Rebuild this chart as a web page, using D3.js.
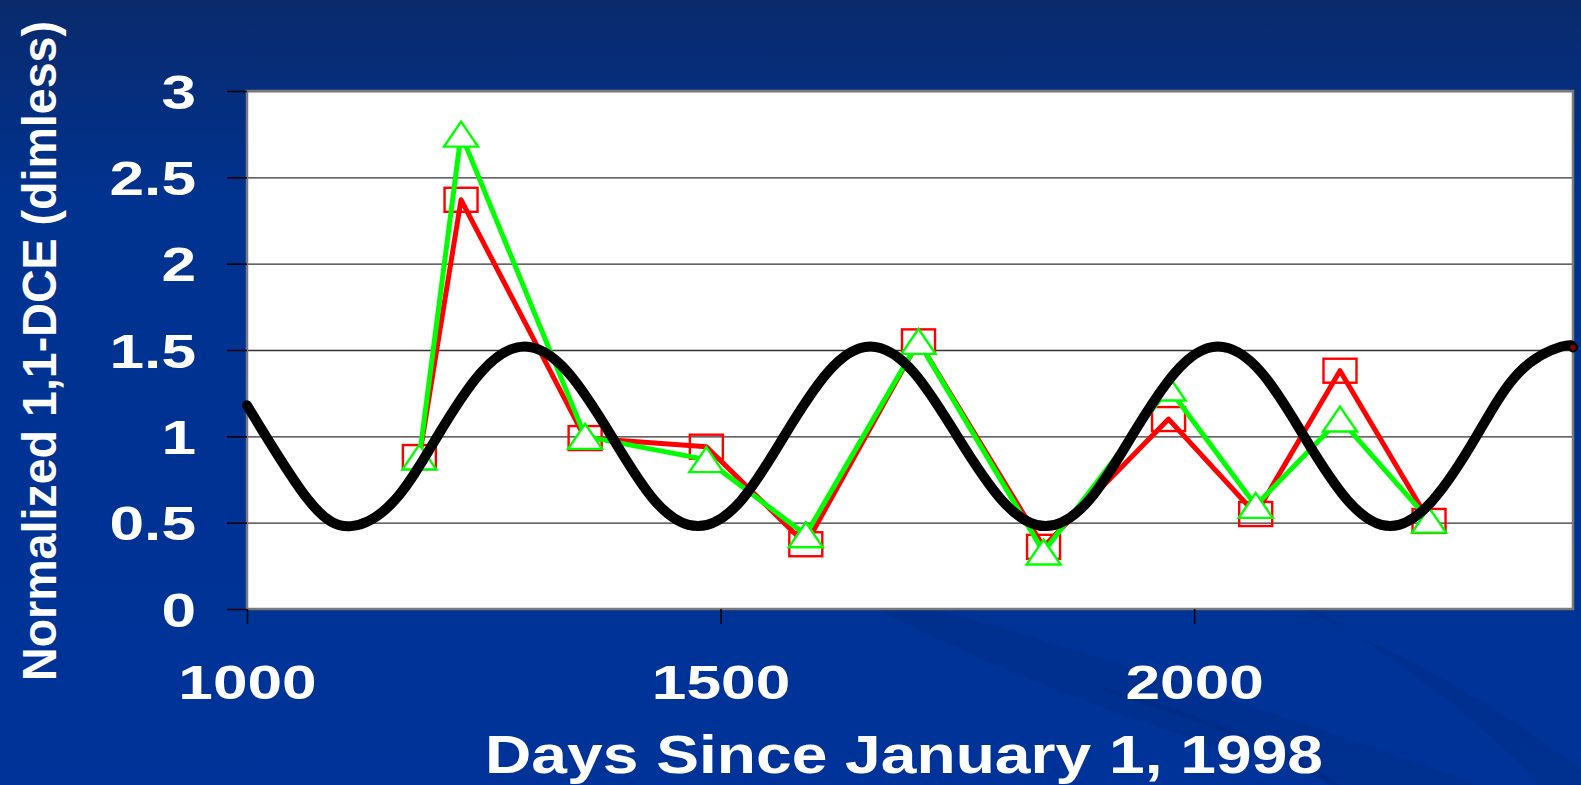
<!DOCTYPE html>
<html>
<head>
<meta charset="utf-8">
<script src="https://cdn.jsdelivr.net/npm/d3@7"></script>
<style>
body { margin: 0; background: #003399; overflow: hidden; }
text { font-family: "Liberation Sans", Arial, sans-serif; font-weight: bold; fill: #fff; }
</style>
</head>
<body>
<div id="chart"></div>
<script>
// sample days (x) shared by the two measured series
var sampleDays = [1182, 1226, 1357, 1485, 1590, 1709, 1841, 1973, 2065, 2154, 2248];
var redValues = [0.88, 2.37, 0.99, 0.94, 0.375, 1.55, 0.36, 1.10, 0.55, 1.38, 0.51];
var greenValues = [0.88, 2.75, 1.0, 0.865, 0.43, 1.55, 0.33, 1.28, 0.60, 1.10, 0.515];

// black seasonal curve
var modelDays = [1000, 1065, 1110, 1156, 1201, 1247, 1293, 1339, 1385, 1430, 1476, 1522, 1567, 1613, 1658,
  1704, 1750, 1797, 1843, 1889, 1934, 1980, 2025, 2071, 2116, 2162, 2207, 2252, 2298, 2343, 2388, 2400];
var modelValues = [1.18, 0.63, 0.48, 0.63, 1.0, 1.37, 1.52, 1.37, 1.0, 0.63, 0.48, 0.63, 1.0, 1.37, 1.52,
  1.37, 1.0, 0.63, 0.48, 0.63, 1.0, 1.37, 1.52, 1.37, 1.0, 0.63, 0.48, 0.63, 1.0, 1.37, 1.52, 1.515];

var xTicks = [1000, 1500, 2000];
var yTicks = [0, 0.5, 1, 1.5, 2, 2.5, 3];

var W = 1581, H = 785;
var plot = {left: 247, top: 91, right: 1573, bottom: 609};
var stretch = 1.27;

var svg = d3.select("#chart").append("svg")
  .attr("width", W)
  .attr("height", H);

var defs = svg.append("defs");
var bg = defs.append("linearGradient").attr("id", "bg")
  .attr("x1", 0).attr("y1", 0).attr("x2", 0).attr("y2", 1);
bg.append("stop").attr("offset", "0%").attr("stop-color", "#0a2a6c");
bg.append("stop").attr("offset", "25%").attr("stop-color", "#00328f");
bg.append("stop").attr("offset", "100%").attr("stop-color", "#003399");

svg.append("rect").attr("width", W).attr("height", H).attr("fill", "url(#bg)");

// faint swooshes in the lower right
svg.append("path")
  .attr("d", "M860,600 C1050,700 1250,760 1350,785 L1480,785 C1300,720 1050,640 900,600 Z")
  .attr("fill", "#002c86").attr("opacity", 0.45);
svg.append("path")
  .attr("d", "M1280,600 C1420,660 1520,720 1581,770 L1581,785 L1540,785 C1480,720 1400,660 1300,600 Z")
  .attr("fill", "#002c86").attr("opacity", 0.45);
svg.append("path")
  .attr("d", "M1100,690 C1200,720 1280,750 1330,785 L1340,785 C1280,745 1200,715 1100,686 Z")
  .attr("fill", "#002a80").attr("opacity", 0.6);

var x = d3.scaleLinear().domain([1000, 2400]).range([plot.left, plot.right]);
var y = d3.scaleLinear().domain([0, 3]).range([plot.bottom, plot.top]);

// plot area
svg.append("rect")
  .attr("x", plot.left).attr("y", plot.top)
  .attr("width", plot.right - plot.left).attr("height", plot.bottom - plot.top)
  .attr("fill", "#fff");

// gridlines
svg.append("g")
  .attr("class", "grid")
  .attr("transform", "translate(" + plot.left + ",0)")
  .call(d3.axisLeft(y).tickValues(yTicks).tickSize(-(plot.right - plot.left)).tickFormat(""))
  .call(function (g) {
    g.select(".domain").remove();
    g.selectAll("line").attr("stroke", "#333").attr("stroke-width", 1.3);
  });

svg.append("rect")
  .attr("x", plot.left).attr("y", plot.top)
  .attr("width", plot.right - plot.left).attr("height", plot.bottom - plot.top)
  .attr("fill", "none").attr("stroke", "#7a7a7a").attr("stroke-width", 2.5);

// axes
var yAxis = svg.append("g")
  .attr("transform", "translate(" + plot.left + ",0)")
  .call(d3.axisLeft(y).tickValues(yTicks).tickSize(20).tickPadding(31).tickFormat(function (d) { return String(d); }));

var xAxis = svg.append("g")
  .attr("transform", "translate(0," + plot.bottom + ")")
  .call(d3.axisBottom(x).tickValues(xTicks).tickSize(15).tickPadding(40).tickFormat(d3.format("d")));

[yAxis, xAxis].forEach(function (g) {
  g.select(".domain").remove();
  g.selectAll("line").attr("stroke", "#000").attr("stroke-width", 1.5);
  g.selectAll("text")
    .attr("fill", "#fff")
    .style("font-size", "49px")
    .style("font-family", "'Liberation Sans', Arial, sans-serif")
    .style("font-weight", "bold");
});
yAxis.selectAll("text").attr("dy", "0.35em");
xAxis.selectAll("text").attr("dy", "0.71em");

svg.selectAll(".tick text").each(function () {
  var w = this.getComputedTextLength();
  d3.select(this).attr("textLength", w * stretch).attr("lengthAdjust", "spacingAndGlyphs");
});

// axis titles
svg.append("text")
  .attr("x", 904).attr("y", 773)
  .attr("text-anchor", "middle")
  .attr("textLength", 838).attr("lengthAdjust", "spacingAndGlyphs")
  .style("font-size", "54px")
  .text("Days Since January 1, 1998");

svg.append("text")
  .attr("transform", "translate(56,351) rotate(-90)")
  .attr("text-anchor", "middle")
  .attr("textLength", 660).attr("lengthAdjust", "spacingAndGlyphs")
  .style("font-size", "49px")
  .text("Normalized 1,1-DCE (dimless)");

// series
var red = sampleDays.map(function (d, i) { return [d, redValues[i]]; });
var green = sampleDays.map(function (d, i) { return [d, greenValues[i]]; });
var model = modelDays.map(function (d, i) { return [d, modelValues[i]]; });

var line = d3.line()
  .x(function (d) { return x(d[0]); })
  .y(function (d) { return y(d[1]); });

svg.append("path").datum(red)
  .attr("d", line)
  .attr("fill", "none").attr("stroke", "#ff0000").attr("stroke-width", 5)
  .attr("stroke-linejoin", "round");

var sqW = 33, sqH = 24;
svg.selectAll(".sq").data(red).enter().append("rect")
  .attr("class", "sq")
  .attr("x", function (d) { return x(d[0]) - sqW / 2; })
  .attr("y", function (d) { return y(d[1]) - sqH / 2; })
  .attr("width", sqW).attr("height", sqH)
  .attr("fill", "none").attr("stroke", "#ff0000").attr("stroke-width", 2.4);

svg.append("path").datum(green)
  .attr("d", line)
  .attr("fill", "none").attr("stroke", "#00ff00").attr("stroke-width", 5)
  .attr("stroke-linejoin", "round");

var trW = 34, trH = 25;
svg.selectAll(".tri").data(green).enter().append("path")
  .attr("class", "tri")
  .attr("transform", function (d) { return "translate(" + x(d[0]) + "," + y(d[1]) + ")"; })
  .attr("d", "M0," + (-trH / 2) + "L" + (trW / 2) + "," + (trH / 2) + "L" + (-trW / 2) + "," + (trH / 2) + "Z")
  .attr("fill", "#fff").attr("stroke", "#00ff00").attr("stroke-width", 2.4);

svg.append("path").datum(model)
  .attr("d", d3.line()
    .x(function (d) { return x(d[0]); })
    .y(function (d) { return y(d[1]); })
    .curve(d3.curveNatural))
  .attr("fill", "none").attr("stroke", "#000").attr("stroke-width", 10)
  .attr("stroke-linecap", "round");

var last = model[model.length - 1];
svg.append("circle")
  .attr("cx", x(last[0])).attr("cy", y(last[1])).attr("r", 3)
  .attr("fill", "#7a0000");
</script>
</body>
</html>
